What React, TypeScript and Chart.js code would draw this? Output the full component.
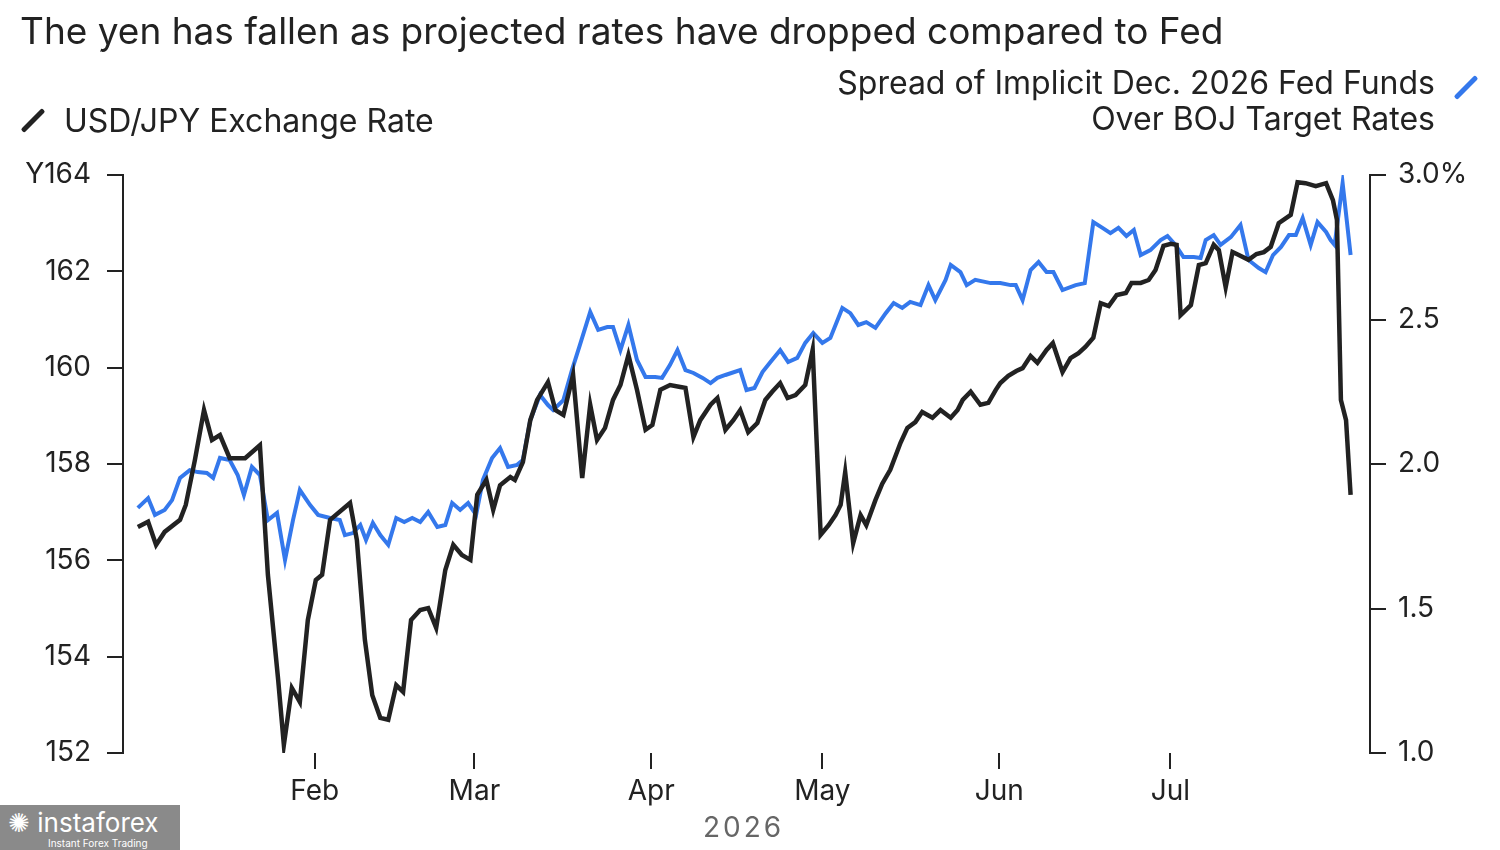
import { useEffect, useRef } from 'react'
import { Chart, registerables } from 'chart.js'

Chart.register(...registerables)

// x values are days since Jan 1, 2026
const usdJpyDays = [0, 1.8, 3.2, 4.7, 7.4, 8.4, 10, 11.6, 13, 14.4, 16.1, 18.8, 21.4, 22.8, 24.6, 25.6, 27, 28.4, 29.8, 31.2, 32.3, 33.7, 37.2, 38.4, 39.8, 41.1, 42.5, 43.9, 45.3, 46.5, 47.9, 49.5, 50.9, 52.3, 53.9, 55.3, 56.8, 58.3, 59.5, 61.1, 62.3, 63.5, 65.3, 66.1, 67.5, 68.8, 70, 71.9, 73.2, 74.6, 76.3, 77.9, 79.3, 80.5, 81.9, 83.3, 84.6, 86, 87.5, 89, 90.2, 91.6, 93.3, 95.1, 96, 97.4, 98.6, 100.4, 101.6, 103, 104.4, 105.6, 107, 108.6, 110, 111.2, 112.6, 113.9, 115.3, 117, 118.3, 119.7, 121.1, 122.3, 123.2, 124, 125.4, 126.7, 127.7, 129.3, 130.5, 131.9, 133.7, 134.9, 136.3, 137.5, 139.3, 140.7, 142.5, 143.7, 144.6, 146, 147.7, 149.1, 150.4, 151.2, 152.6, 154, 155.1, 156.5, 157.7, 159.3, 160.4, 162.1, 163.5, 164.9, 166.1, 167.5, 168.8, 170.2, 171.6, 173.2, 174.2, 175.8, 177.2, 178.4, 179.8, 181.1, 182.1, 182.8, 184.6, 186, 187.2, 188.6, 189.5, 190.7, 191.9, 193, 194.7, 196.1, 197.4, 198.6, 200, 202.1, 203.3, 204.7, 206.5, 208.3, 209.5, 210.2, 210.9, 211.8, 212.6]
const usdJpy = [156.69, 156.8, 156.32, 156.59, 156.84, 157.15, 158.08, 159.12, 158.5, 158.6, 158.12, 158.12, 158.39, 155.7, 153.52, 152.17, 153.35, 153.06, 154.76, 155.59, 155.7, 156.84, 157.19, 156.42, 154.35, 153.2, 152.73, 152.69, 153.41, 153.27, 154.76, 154.97, 155.01, 154.6, 155.8, 156.32, 156.11, 156.01, 157.36, 157.67, 157.05, 157.56, 157.73, 157.67, 158.04, 158.91, 159.33, 159.7, 159.12, 159.02, 159.85, 157.71, 159.23, 158.5, 158.75, 159.33, 159.64, 160.26, 159.54, 158.71, 158.81, 159.54, 159.64, 159.6, 159.58, 158.56, 158.91, 159.23, 159.37, 158.71, 158.91, 159.12, 158.66, 158.85, 159.33, 159.5, 159.68, 159.37, 159.43, 159.64, 160.37, 156.53, 156.73, 156.94, 157.15, 157.83, 156.36, 156.94, 156.73, 157.25, 157.59, 157.88, 158.44, 158.75, 158.87, 159.08, 158.96, 159.12, 158.96, 159.12, 159.33, 159.5, 159.23, 159.27, 159.54, 159.68, 159.83, 159.93, 159.99, 160.24, 160.1, 160.37, 160.51, 159.91, 160.2, 160.3, 160.43, 160.62, 161.34, 161.28, 161.51, 161.55, 161.76, 161.76, 161.82, 162.03, 162.53, 162.57, 162.55, 161.09, 161.3, 162.13, 162.17, 162.55, 162.44, 161.67, 162.4, 162.34, 162.24, 162.36, 162.4, 162.51, 163, 163.17, 163.85, 163.83, 163.77, 163.83, 163.48, 163.07, 159.33, 158.91, 157.36]

const spreadDays = [0, 1.8, 3, 4.7, 6, 7.4, 9.1, 10.5, 12.1, 13.2, 14.4, 16.1, 17.5, 18.6, 20, 21.4, 22.8, 24.4, 25.8, 27.2, 28.4, 30.2, 31.6, 33.7, 35.4, 36.3, 37.7, 39, 40, 41.2, 42.5, 43.9, 45.3, 46.7, 48.1, 49.5, 50.9, 52.5, 53.9, 55.1, 56.5, 57.9, 59.3, 60.5, 62.1, 63.5, 64.9, 66.5, 67.5, 68.8, 70.5, 71.9, 72.8, 74.6, 76.1, 77.5, 79.3, 80.7, 82.3, 83.3, 84.6, 86, 87.5, 89, 90.7, 91.9, 93.3, 94.6, 96, 97.4, 99, 100.4, 101.6, 103, 105.6, 106.7, 108.1, 109.5, 110.9, 112.6, 114, 115.6, 117, 118.4, 120, 121.4, 123.5, 124.9, 126.3, 127.7, 129.3, 131.1, 132.5, 134, 135.4, 137.2, 138.6, 139.8, 141.6, 142.5, 144.2, 145.3, 146.8, 149.5, 151.2, 153, 153.9, 155.1, 156.5, 157.9, 159.3, 160.5, 162.1, 164.4, 166, 167.5, 169.1, 170.5, 171.9, 173.3, 174.6, 175.8, 177.5, 179.3, 180.5, 181.9, 183.3, 185.1, 186.3, 187.2, 188.6, 189.8, 191.6, 193.3, 194.7, 196.5, 197.7, 199, 200.4, 201.8, 203, 204.2, 205.6, 206.8, 208.3, 209.1, 209.8, 211.2, 212.6]
const spread = [1.848, 1.882, 1.824, 1.841, 1.875, 1.952, 1.979, 1.972, 1.969, 1.952, 2.021, 2.014, 1.962, 1.893, 1.99, 1.962, 1.806, 1.831, 1.668, 1.806, 1.91, 1.858, 1.824, 1.813, 1.806, 1.754, 1.761, 1.789, 1.737, 1.796, 1.754, 1.72, 1.813, 1.799, 1.813, 1.799, 1.834, 1.782, 1.789, 1.865, 1.841, 1.865, 1.824, 1.945, 2.021, 2.055, 1.99, 1.997, 2.014, 2.152, 2.239, 2.204, 2.187, 2.221, 2.325, 2.412, 2.526, 2.464, 2.474, 2.474, 2.394, 2.481, 2.36, 2.301, 2.301, 2.298, 2.343, 2.394, 2.325, 2.315, 2.298, 2.28, 2.298, 2.308, 2.325, 2.256, 2.263, 2.318, 2.353, 2.394, 2.353, 2.367, 2.419, 2.453, 2.419, 2.436, 2.54, 2.522, 2.481, 2.491, 2.471, 2.522, 2.557, 2.54, 2.561, 2.55, 2.619, 2.567, 2.637, 2.689, 2.664, 2.619, 2.637, 2.626, 2.626, 2.619, 2.619, 2.567, 2.671, 2.699, 2.664, 2.664, 2.602, 2.619, 2.626, 2.837, 2.817, 2.799, 2.817, 2.789, 2.81, 2.723, 2.74, 2.775, 2.789, 2.758, 2.716, 2.716, 2.713, 2.775, 2.792, 2.758, 2.785, 2.827, 2.706, 2.678, 2.664, 2.723, 2.751, 2.792, 2.792, 2.851, 2.758, 2.837, 2.803, 2.775, 2.758, 2.972, 2.723]

const monthDays = [31, 59, 90, 120, 151, 181]
const monthLabels = ['Feb', 'Mar', 'Apr', 'May', 'Jun', 'Jul']

const FONT = 'Inter, "Liberation Sans", Arial, sans-serif'
const INK = '#222222'
const BLUE = '#3478ec'

export default function App() {
  const chartRef = useRef<HTMLCanvasElement | null>(null)

  useEffect(() => {
    document.body.style.margin = '0'
    if (!chartRef.current) return
    const chart = new Chart(chartRef.current, {
      type: 'line',
      data: {
        datasets: [
          {
            label: 'USD/JPY',
            data: usdJpyDays.map((d, i) => ({ x: d, y: usdJpy[i] })),
            borderColor: INK,
            borderWidth: 4.5,
            pointRadius: 0,
            yAxisID: 'y',
            order: 0,
          },
          {
            label: 'Spread',
            data: spreadDays.map((d, i) => ({ x: d, y: spread[i] })),
            borderColor: BLUE,
            borderWidth: 4,
            pointRadius: 0,
            yAxisID: 'y2',
            order: 1,
          },
        ],
      },
      options: {
        animation: false,
        responsive: false,
        layout: { padding: { top: 175 } },
        plugins: { legend: { display: false }, tooltip: { enabled: false } },
        scales: {
          x: {
            type: 'linear',
            min: -2.6,
            max: 216,
            afterBuildTicks: (s: any) => { s.ticks = monthDays.map(v => ({ value: v })) },
            afterFit: (s: any) => { s.height = 97 },
            ticks: {
              callback: (v: any) => monthLabels[monthDays.indexOf(Number(v))] ?? '',
              color: INK,
              font: { family: FONT, size: 28 },
              padding: 6,
              maxRotation: 0,
              autoSkip: false,
            },
            grid: { drawOnChartArea: false, color: INK, lineWidth: 2, tickLength: 16, offset: false },
            border: { display: false },
          },
          y: {
            position: 'left',
            min: 152,
            max: 164,
            afterBuildTicks: (s: any) => { s.ticks = [152, 154, 156, 158, 160, 162, 164].map(v => ({ value: v })) },
            afterFit: (s: any) => { s.width = 123 },
            ticks: {
              callback: (v: any) => (v === 164 ? 'Y164' : String(v)),
              color: INK,
              font: { family: FONT, size: 28 },
              padding: 16,
            },
            grid: { drawOnChartArea: false, color: INK, lineWidth: 2, tickLength: 16 },
            border: { display: true, color: INK, width: 2 },
          },
          y2: {
            position: 'right',
            min: 1,
            max: 3,
            afterBuildTicks: (s: any) => { s.ticks = [1, 1.5, 2, 2.5, 3].map(v => ({ value: v })) },
            afterFit: (s: any) => { s.width = 130 },
            ticks: {
              callback: (v: any) => (v === 3 ? '3.0%' : Number(v).toFixed(1)),
              color: INK,
              font: { family: FONT, size: 28 },
              padding: 12,
            },
            grid: { drawOnChartArea: false, color: INK, lineWidth: 2, tickLength: 16 },
            border: { display: true, color: INK, width: 2 },
          },
        },
      },
    })
    return () => chart.destroy()
  }, [])

  const slash = (color: string) => (
    <span style={{ display: 'inline-block', width: 30, height: 5, background: color, transform: 'rotate(-45deg)', borderRadius: 2 }} />
  )

  return (
    <div style={{ position: 'fixed', left: 0, top: 0, width: 1500, height: 850, background: '#fff', fontFamily: FONT, color: INK, overflow: 'hidden' }}>
      <canvas ref={chartRef} width={1500} height={850} style={{ position: 'absolute', left: 0, top: 0 }} />
      <div style={{ position: 'absolute', left: 20, top: 8, fontSize: 37, whiteSpace: 'nowrap' }}>
        The yen has fallen as projected rates have dropped compared to Fed
      </div>
      <div style={{ position: 'absolute', left: 18, top: 101, fontSize: 32, display: 'flex', alignItems: 'center', gap: 16, whiteSpace: 'nowrap' }}>
        {slash(INK)}
        <span>USD/JPY Exchange Rate</span>
      </div>
      <div style={{ position: 'absolute', right: 65, top: 65, fontSize: 32, textAlign: 'right', lineHeight: '36px', whiteSpace: 'nowrap' }}>
        Spread of Implicit Dec. 2026 Fed Funds<br />Over BOJ Target Rates
      </div>
      <div style={{ position: 'absolute', left: 1451, top: 74 }}>{slash(BLUE)}</div>
      <div style={{ position: 'absolute', left: 703, top: 810, fontSize: 28, color: '#666', letterSpacing: 3 }}>2026</div>
      <div style={{ position: 'absolute', left: 0, top: 805, width: 180, height: 45, background: '#8a8a8a', color: '#fff', padding: '4px 0 0 8px', boxSizing: 'border-box' }}>
        <div style={{ fontSize: 26, lineHeight: '28px' }}>✺ instaforex</div>
        <div style={{ fontSize: 10, marginLeft: 40 }}>Instant Forex Trading</div>
      </div>
    </div>
  )
}
